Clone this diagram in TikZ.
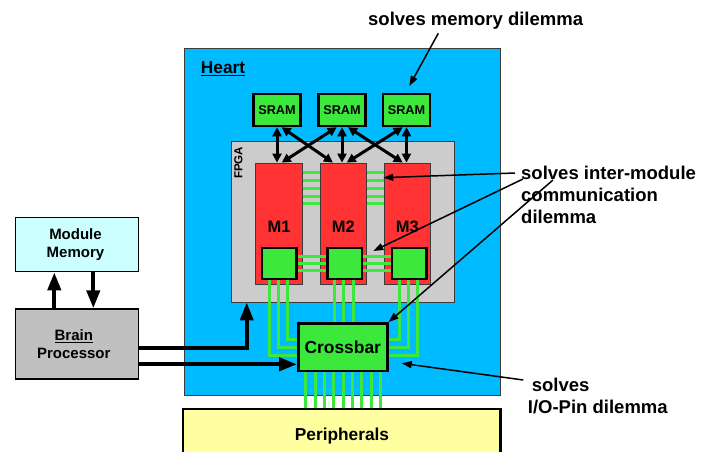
\documentclass[tikz,border=0pt]{standalone}
\usepackage{fontspec}
\setmainfont{Liberation Sans}
\usetikzlibrary{arrows.meta}
\definecolor{heartblue}{RGB}{0,187,255}
\definecolor{fpgagray}{RGB}{204,204,204}
\definecolor{modred}{RGB}{255,51,51}
\definecolor{chipgreen}{RGB}{61,232,61}
\definecolor{procgray}{RGB}{192,192,192}
\definecolor{memcyan}{RGB}{204,255,255}
\definecolor{perifill}{RGB}{255,255,160}
\definecolor{edgegray}{RGB}{60,60,60}
\pgfdeclarelayer{bg}
\pgfdeclarelayer{mid}
\pgfsetlayers{bg,mid,main}
\begin{document}
\begin{tikzpicture}[x=1pt,y=-1pt,
  box/.style={rectangle, inner sep=0pt, anchor=center},
  heartbox/.style={box, fill=heartblue, draw=edgegray, line width=1pt},
  fpgabox/.style={box, fill=fpgagray, draw=edgegray, line width=0.8pt},
  modbox/.style={box, fill=modred, draw=edgegray, line width=0.8pt, minimum width=46.5pt, minimum height=121pt},
  chip/.style={box, fill=chipgreen, draw=black, line width=2.5pt},
  srambox/.style={chip, minimum width=47pt, minimum height=32pt, font=\fontsize{12.7}{14}\selectfont\bfseries},
  portbox/.style={chip, minimum width=34.5pt, minimum height=31pt},
  gline/.style={draw=chipgreen, line width=3pt},
  bigarrow/.style={line width=4pt, -{Triangle[length=18pt,width=13pt]}},
  busarrow/.style={line width=3pt, {Triangle[length=9pt,width=9pt]}-{Triangle[length=9pt,width=9pt]}},
  note/.style={font=\fontsize{18.5}{22}\selectfont\bfseries, align=left, inner sep=0pt},
  notearrow/.style={line width=1.5pt, -{Triangle[length=10pt,width=7pt]}},
  modlab/.style={font=\fontsize{16.5}{18}\selectfont\bfseries, inner sep=0pt}
]
\useasboundingbox (0,0) rectangle (710,452);

\begin{pgfonlayer}{bg}
\node[heartbox, minimum width=315.5pt, minimum height=346.5pt] (heart) at (342.25,221.75) {};
\node[fpgabox, minimum width=223pt, minimum height=161pt] (fpga) at (342.5,221.5) {};
\node[modbox] (m1) at (279,223.5) {};
\node[modbox] (m2) at (343.3,223.5) {};
\node[modbox] (m3) at (407.3,223.5) {};
\end{pgfonlayer}

\node[box, anchor=base west, font=\fontsize{17.3}{20}\selectfont\bfseries] (heartlab) at (200.7,73.3) {\underline{Heart}};
\node[rotate=90, inner sep=0pt, font=\fontsize{11.6}{13}\selectfont\bfseries] (fpgalab) at (238.3,162.8) {FPGA};
\node[modlab] (m1lab) at (279,227) {M1};
\node[modlab] (m2lab) at (343.3,227) {M2};
\node[modlab] (m3lab) at (407.3,227) {M3};

\node[srambox] (s1) at (277,110) {SRAM};
\node[srambox] (s2) at (342,110) {SRAM};
\node[srambox] (s3) at (406.5,110) {SRAM};

\node[portbox] (q1) at (279.3,263.5) {};
\node[portbox] (q2) at (344.7,263.5) {};
\node[portbox] (q3) at (409,263.5) {};

\node[chip, minimum width=89pt, minimum height=47.7pt, font=\fontsize{17.4}{20}\selectfont\bfseries] (xb) at (342.8,347.2) {Crossbar};

\node[box, fill=perifill, minimum width=316.7pt, minimum height=44pt] (peri) at (341.65,431.3) {};
\draw[line width=2.6pt] (peri.south west) -- (peri.north west) -- (peri.north east) -- (peri.south east);
\node[inner sep=0pt, font=\fontsize{17.3}{20}\selectfont\bfseries] (perilab) at (342,436) {Peripherals};

\node[box, fill=memcyan, draw=black, line width=1.3pt, minimum width=123pt, minimum height=54pt, align=center, font=\fontsize{15}{18}\selectfont\bfseries] (mem) at (77.3,244.7) {Module\hspace*{3.6pt}\\Memory\hspace*{3.6pt}};
\node[box, fill=procgray, draw=black, line width=1.3pt, minimum width=123pt, minimum height=70pt, align=center, font=\fontsize{15}{18.3}\selectfont\bfseries] (proc) at (77.3,344) {\underline{Brain}\hspace*{7pt}\\Processor\hspace*{7pt}};

% green interconnect
\begin{pgfonlayer}{mid}
\foreach \d in {10.3,18,26,33.7,41.3} {
  \draw[gline] ([yshift=-\d pt]m1.north east) -- ([yshift=-\d pt]m2.north west);
  \draw[gline] ([yshift=-\d pt]m2.north east) -- ([yshift=-\d pt]m3.north west);
}
\foreach \d in {-7,0,7} {
  \draw[gline] ([yshift=\d pt]q1.east) -- ([yshift=\d pt]q2.west);
  \draw[gline] ([yshift=\d pt]q2.east) -- ([yshift=\d pt]q3.west);
}
\draw[gline] ([xshift=-10pt]q1.south) |- ([yshift=-8pt]xb.west);
\draw[gline] ([xshift=-1pt]q1.south) |- (xb.west);
\draw[gline] ([xshift=8.3pt]q1.south) |- ([yshift=8pt]xb.west);
\draw[gline] ([xshift=-10pt]q3.south) |- ([yshift=8pt]xb.east);
\draw[gline] ([xshift=-0.7pt]q3.south) |- (xb.east);
\draw[gline] ([xshift=8.7pt]q3.south) |- ([yshift=-8pt]xb.east);
\foreach \d in {-10.7,-1,8.6} {
  \path ([xshift=\d pt]q2.south) coordinate (t);
  \draw[gline] (t) -- (t |- xb.north);
}
\foreach \i in {-4,...,4} {
  \path ([xshift=\i*9.33pt+0.5pt]xb.south) coordinate (b);
  \draw[gline] (b) -- (b |- peri.north);
}
\end{pgfonlayer}

% SRAM buses
\draw[busarrow] (s1.south) -- (s1.south |- m1.north);
\draw[busarrow] (s2.south) -- (s2.south |- m2.north);
\draw[busarrow] (s3.south) -- (s3.south |- m3.north);
\draw[busarrow] ([xshift=4.7pt]s1.south) -- ([xshift=-10.3pt]m2.north);
\draw[busarrow] ([xshift=-5.3pt]s2.south) -- ([xshift=2.7pt]m1.north);
\draw[busarrow] ([xshift=6pt]s2.south) -- ([xshift=-4.6pt]m3.north);
\draw[busarrow] ([xshift=-3.8pt]s3.south) -- ([xshift=3.4pt]m2.north);

% brain connections
\draw[bigarrow] ([xshift=-23pt]proc.north) -- ([xshift=-23pt]mem.south);
\draw[bigarrow] ([xshift=16pt]mem.south) -- ([xshift=16pt]proc.north);
\draw[bigarrow] ([yshift=-4pt]proc.east) -| ([xshift=-95.8pt]fpga.south);
\coordinate (p2) at ([yshift=-20.3pt]proc.east);
\draw[bigarrow] (p2) -- (p2 -| xb.west);

% notes
\node[note, anchor=base west] (memnote) at (368,26) {solves memory dilemma};
\node[note, anchor=north west] (intnote) at (521,166.3) {solves inter-module\\communication\\dilemma};
\node[note, anchor=north west] (ionote) at (527.7,378.3) {\hspace*{4pt}solves\\I/O-Pin dilemma};

\coordinate (a1s) at (438.3,33.3);
\coordinate (a1e) at (409.3,86);
\draw[notearrow] (a1s) -- (a1e);
\coordinate (a2s) at (515,173);
\coordinate (a2e) at (383.3,177.7);
\draw[notearrow] (a2s) -- (a2e);
\coordinate (a3s) at (523,179);
\coordinate (a3e) at (373.3,251);
\draw[notearrow] (a3s) -- (a3e);
\coordinate (a4s) at (553,180);
\draw[notearrow] (a4s) -- (xb.north east);
\coordinate (a5s) at (523.3,380);
\coordinate (a5e) at (401.7,363.3);
\draw[notearrow] (a5s) -- (a5e);
\end{tikzpicture}
\end{document}
